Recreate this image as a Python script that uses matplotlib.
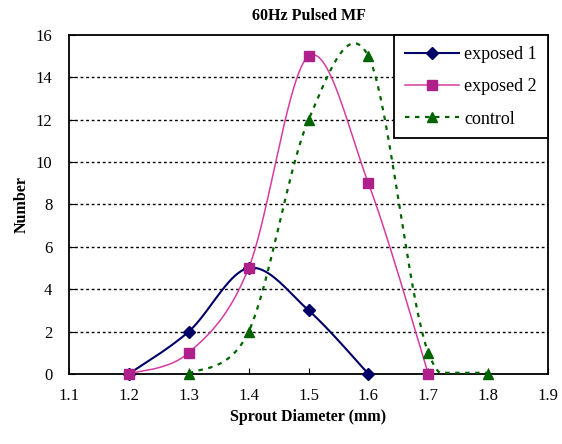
import numpy as np
import matplotlib
matplotlib.use("Agg")
import matplotlib.pyplot as plt
from matplotlib.lines import Line2D

plt.rcParams['font.family'] = ['Liberation Serif', 'DejaVu Serif']

title = "60Hz Pulsed MF"
xlabel = "Sprout Diameter (mm)"
ylabel = "Number"

x1 = [1.2, 1.3, 1.4, 1.5, 1.6]
y1 = [0, 2, 5, 3, 0]
x2 = [1.2, 1.3, 1.4, 1.5, 1.6, 1.7]
y2 = [0, 1, 5, 15, 9, 0]
x3 = [1.3, 1.4, 1.5, 1.6, 1.7, 1.8]
y3 = [0, 2, 12, 15, 1, 0]
labels = ["exposed 1", "exposed 2", "control"]
xticks = [1.1, 1.2, 1.3, 1.4, 1.5, 1.6, 1.7, 1.8, 1.9]
yticks = [0, 2, 4, 6, 8, 10, 12, 14, 16]


def smooth(xs, ys, n=40):
    xs = np.asarray(xs, float)
    ys = np.asarray(ys, float)
    P = np.column_stack([xs, ys])
    Pe = np.vstack([P[0], P, P[-1]])
    out = []
    for i in range(len(P) - 1):
        p0, p1, p2, p3 = Pe[i], Pe[i + 1], Pe[i + 2], Pe[i + 3]
        c1 = p1 + (p2 - p0) / 6.0
        c2 = p2 - (p3 - p1) / 6.0
        t = np.linspace(0, 1, n)[:, None]
        seg = ((1 - t) ** 3) * p1 + 3 * ((1 - t) ** 2) * t * c1 + 3 * (1 - t) * t ** 2 * c2 + t ** 3 * p2
        out.append(seg if i == 0 else seg[1:])
    s = np.vstack(out)
    return s[:, 0], s[:, 1]


fig = plt.figure(figsize=(5.62, 4.44), dpi=100)
ax = fig.add_axes([0.123, 0.158, 0.852, 0.763])

c1, c2, c3 = "#000066", "#d63ca0", "#006400"
sx, sy = smooth(x1, y1)
ax.plot(sx, sy, color=c1, lw=1.5, zorder=3)
ax.plot(x1, y1, 'D', color=c1, ms=6.5, zorder=4, clip_on=False)
sx, sy = smooth(x2, y2)
ax.plot(sx, sy, color=c2, lw=1.1, zorder=3)
ax.plot(x2, y2, 's', color="#b0208a", ms=7.5, zorder=4, clip_on=False)
sx, sy = smooth(x3, y3)
ax.plot(sx, np.clip(sy, 0.05, None), color=c3, lw=1.6, ls=(0, (2, 2.5)), zorder=3)
ax.plot(x3, y3, '^', color=c3, ms=7.5, zorder=4, clip_on=False)

ax.set_xlim(1.1, 1.9)
ax.set_ylim(0, 16)
ax.set_xticks(xticks)
ax.set_xticklabels([f"{v:.1f}" for v in xticks], fontsize=12)
ax.set_yticks(yticks)
ax.set_yticklabels([str(v) for v in yticks], fontsize=12)
ax.tick_params(axis='x', direction='in', length=4, pad=10)
ax.tick_params(axis='y', direction='in', length=4, pad=12)
for v in yticks[1:-1]:
    ax.axhline(v, color='black', lw=1.0, ls=(0, (2, 2)), zorder=1)
for s in ax.spines.values():
    s.set_color('black')
    s.set_linewidth(1.3)

ax.set_title(title, fontsize=11.5, fontweight='bold', pad=11)
ax.set_xlabel(xlabel, fontsize=11.5, fontweight='bold', labelpad=4)
ax.set_ylabel(ylabel, fontsize=11.5, fontweight='bold', labelpad=4)

handles = [
    Line2D([], [], color=c1, lw=1.5, marker='D', ms=6.5),
    Line2D([], [], color=c2, lw=1.1, marker='s', ms=7.5, mfc="#b0208a", mec="#b0208a"),
    Line2D([], [], color=c3, lw=1.6, ls=(0, (2, 2.5)), marker='^', ms=7.5),
]
leg = ax.legend(handles, labels, loc='upper right', fontsize=13, frameon=True,
                fancybox=False, edgecolor='black', framealpha=1,
                borderaxespad=0, handlelength=3.0, labelspacing=0.85,
                borderpad=0.6, handletextpad=0.3)
leg.get_frame().set_linewidth(1.3)

fig.savefig("out.png", dpi=100)
